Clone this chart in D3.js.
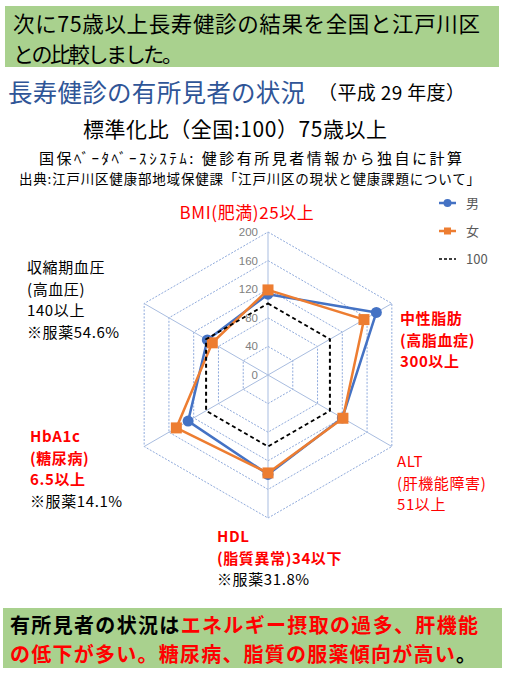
<!DOCTYPE html>
<html><head><meta charset="utf-8">
<script src="https://cdn.jsdelivr.net/npm/d3@7"></script>
<style>
html,body{margin:0;padding:0;background:#fff;}
svg{display:block;font-family:"Noto Sans CJK JP","Noto Sans",sans-serif;}
</style></head>
<body>
<svg id="c" width="505" height="673"></svg>
<script>
// ---- data ----
const axes = ["BMI", "中性脂肪", "ALT", "HDL", "HbA1c", "収縮期血圧"];
const male = [113, 175, 120, 139, 129, 98];
const female = [119, 155, 121, 137, 148, 90];
const national = [100, 100, 100, 100, 100, 100];
const ticks = [0, 40, 80, 120, 160, 200];
const seriesNames = ["男", "女", "100"];

const svg = d3.select("#c");
const cx = 268, cy = 375, R = 143;
const r = d3.scaleLinear().domain([0, 200]).range([0, R]);
const ang = d3.scaleLinear().domain([0, axes.length]).range([0, 2 * Math.PI]);
const pt = (i, v) => [cx + r(v) * Math.sin(ang(i)), cy - r(v) * Math.cos(ang(i))];

// ---- top banner ----
svg.append("rect").attr("x", 5).attr("y", 6).attr("width", 494).attr("height", 61).attr("fill", "#a9d18e");
svg.append("text").attr("x", 13).attr("y", 31.5).attr("font-size", 21.5).attr("fill", "#000")
  .attr("textLength", 467).attr("lengthAdjust", "spacing")
  .text("次に75歳以上長寿健診の結果を全国と江戸川区");
svg.append("text").attr("x", 13).attr("y", 62).attr("font-size", 21).attr("fill", "#000")
  .attr("textLength", 170).attr("lengthAdjust", "spacing")
  .text("との比較しました。");

// ---- titles ----
svg.append("text").attr("x", 8).attr("y", 102).attr("font-size", 24.5).attr("fill", "#2f5597")
  .attr("textLength", 297).attr("lengthAdjust", "spacing").text("長寿健診の有所見者の状況");
svg.append("text").attr("x", 318).attr("y", 100).attr("font-size", 19).attr("fill", "#000")
  .attr("textLength", 147).attr("lengthAdjust", "spacing").text("（平成 29 年度）");
svg.append("text").attr("x", 83).attr("y", 137).attr("font-size", 21)
  .attr("textLength", 304).attr("lengthAdjust", "spacing")
  .text("標準化比（全国:100）75歳以上");
svg.append("text").attr("x", 39).attr("y", 163.5).attr("font-size", 15)
  .attr("textLength", 423).attr("lengthAdjust", "spacing")
  .text("国保ﾍﾞｰﾀﾍﾞｰｽｼｽﾃﾑ:  健診有所見者情報から独自に計算");
svg.append("text").attr("x", 19).attr("y", 184).attr("font-size", 13.5)
  .attr("textLength", 461).attr("lengthAdjust", "spacing")
  .text("出典:江戸川区健康部地域保健課「江戸川区の現状と健康課題について」");

// ---- radar grid ----
const g = svg.append("g");
ticks.filter(t => t > 0).forEach(t => {
  g.append("polygon")
    .attr("points", axes.map((a, i) => pt(i, t).join(",")).join(" "))
    .attr("fill", "none").attr("stroke", "#8faadc").attr("stroke-width", 1)
    .attr("stroke-dasharray", "2,1.5");
});
axes.forEach((a, i) => {
  const [x, y] = pt(i, 200);
  g.append("line").attr("x1", cx).attr("y1", cy).attr("x2", x).attr("y2", y)
    .attr("stroke", "#a9bde0").attr("stroke-width", 1);
});
ticks.forEach(t => {
  g.append("text").attr("x", cx - 10).attr("y", cy - r(t) + 4).attr("text-anchor", "end")
    .attr("font-size", 11.5).attr("fill", "#808080").attr("font-family", "Liberation Sans, Arial, sans-serif").text(t);
});

// ---- series ----
const line = d3.line().curve(d3.curveLinearClosed);
const ptsOf = vals => vals.map((v, i) => pt(i, v));

svg.append("path").attr("d", line(ptsOf(male))).attr("fill", "none")
  .attr("stroke", "#4472c4").attr("stroke-width", 2.5);
svg.selectAll(".mm").data(male).enter().append("circle")
  .attr("cx", (v, i) => pt(i, v)[0]).attr("cy", (v, i) => pt(i, v)[1]).attr("r", 5.5).attr("fill", "#4472c4");

svg.append("path").attr("d", line(ptsOf(female))).attr("fill", "none")
  .attr("stroke", "#ed7d31").attr("stroke-width", 2.5);
svg.selectAll(".fm").data(female).enter().append("rect")
  .attr("x", (v, i) => pt(i, v)[0] - 5.5).attr("y", (v, i) => pt(i, v)[1] - 5.5)
  .attr("width", 11).attr("height", 11).attr("fill", "#ed7d31");

svg.append("path").attr("d", line(ptsOf(national))).attr("fill", "none")
  .attr("stroke", "#000").attr("stroke-width", 2).attr("stroke-dasharray", "4,3");

// ---- legend ----
const lg = svg.append("g");
const ly = [203, 231, 259];
lg.append("line").attr("x1", 439).attr("x2", 456).attr("y1", ly[0]).attr("y2", ly[0]).attr("stroke", "#4472c4").attr("stroke-width", 2.5);
lg.append("circle").attr("cx", 447.5).attr("cy", ly[0]).attr("r", 4).attr("fill", "#4472c4");
lg.append("line").attr("x1", 439).attr("x2", 456).attr("y1", ly[1]).attr("y2", ly[1]).attr("stroke", "#ed7d31").attr("stroke-width", 2.5);
lg.append("rect").attr("x", 444).attr("y", ly[1] - 3.5).attr("width", 7).attr("height", 7).attr("fill", "#ed7d31");
lg.append("line").attr("x1", 439).attr("x2", 456).attr("y1", ly[2]).attr("y2", ly[2]).attr("stroke", "#000").attr("stroke-width", 1.5).attr("stroke-dasharray", "3,2");
seriesNames.forEach((s, i) => {
  lg.append("text").attr("x", 466).attr("y", ly[i] + 4.5).attr("font-size", 13).attr("fill", "#595959").text(s);
});

// ---- axis labels ----
const LH = 21.5;
function block(x, y, lines, anchor) {
  lines.forEach((l, i) => {
    svg.append("text").attr("x", x).attr("y", y + i * LH)
      .attr("text-anchor", anchor || "start")
      .attr("fill", l.c).attr("font-weight", l.b ? "bold" : "normal")
      .attr("font-size", l.s || 15).attr("letter-spacing", l.ls || 0.6).text(l.t);
  });
}
block(247, 219, [{t: "BMI(肥満)25以上", c: "#ff0000", s: 17, ls: 0}], "middle");
block(27, 273, [{t: "収縮期血圧", c: "#000"}, {t: "(高血圧)", c: "#000"}, {t: "140以上", c: "#000"}, {t: "※服薬54.6%", c: "#000"}]);
block(400, 324, [{t: "中性脂肪", c: "#ff0000", b: 1}, {t: "(高脂血症)", c: "#ff0000", b: 1}, {t: "300以上", c: "#ff0000", b: 1}]);
block(397, 467, [{t: "ALT", c: "#ff0000"}, {t: "(肝機能障害)", c: "#ff0000"}, {t: "51以上", c: "#ff0000"}]);
block(30, 442, [{t: "HbA1c", c: "#ff0000", b: 1}, {t: "(糖尿病)", c: "#ff0000", b: 1}, {t: "6.5以上", c: "#ff0000", b: 1}, {t: "※服薬14.1%", c: "#000"}]);
block(217, 542, [{t: "HDL", c: "#ff0000", b: 1}, {t: "(脂質異常)34以下", c: "#ff0000", b: 1}, {t: "※服薬31.8%", c: "#000"}]);

// ---- bottom banner ----
svg.append("rect").attr("x", 3).attr("y", 608).attr("width", 499).attr("height", 60).attr("fill", "#a9d18e");
const b1 = svg.append("text").attr("x", 10).attr("y", 633).attr("font-size", 20).attr("font-weight", "bold")
  .attr("textLength", 468).attr("lengthAdjust", "spacing");
b1.append("tspan").attr("fill", "#000").text("有所見者の状況は");
b1.append("tspan").attr("fill", "#ff0000").text("エネルギー摂取の過多、肝機能");
const b2 = svg.append("text").attr("x", 10).attr("y", 662).attr("font-size", 20).attr("font-weight", "bold")
  .attr("textLength", 466).attr("lengthAdjust", "spacing");
b2.append("tspan").attr("fill", "#ff0000").text("の低下が多い。糖尿病、脂質の服薬傾向が高い");
b2.append("tspan").attr("fill", "#000").text("。");
</script>
</body></html>
